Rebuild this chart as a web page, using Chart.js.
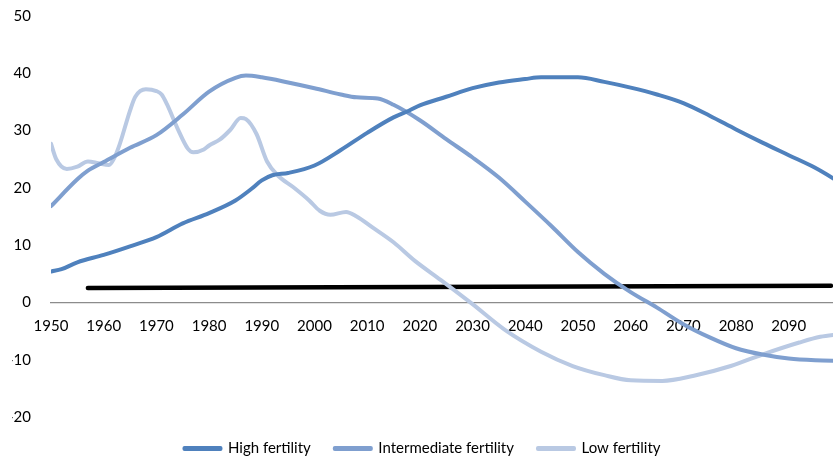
<!DOCTYPE html>
<html>
<head>
<meta charset="utf-8">
<script src="https://cdn.jsdelivr.net/npm/chart.js@4.4.1/dist/chart.umd.min.js"></script>
<style>
  html, body { margin: 0; padding: 0; background: #fff; }
  #frame { width: 833px; height: 463px; overflow: hidden; position: relative; }
  #wrap { width: 833px; height: 476px; position: absolute; left: 0; top: -13px; }
</style>
</head>
<body>
<div id="frame"><div id="wrap"><canvas id="lineChart"></canvas></div></div>
<script>
// values
const highYears = [1950,1952,1955,1960,1965,1970,1975,1980,1985,1988,1990,1992,1995,2000,2005,2010,2015,2018,2020,2025,2030,2035,2040,2043,2050,2055,2060,2065,2070,2075,2080,2085,2090,2095,2100];
const highValues = [5.4,5.8,7.0,8.3,9.8,11.4,13.8,15.6,17.8,19.8,21.3,22.2,22.6,23.9,26.6,29.6,32.3,33.5,34.4,35.9,37.4,38.4,39.0,39.3,39.3,38.5,37.5,36.3,34.8,32.6,30.2,27.9,25.7,23.5,20.8];

const interYears = [1950,1955,1957,1960,1965,1970,1975,1980,1985,1987,1990,1995,2000,2005,2008,2012,2015,2020,2025,2030,2035,2040,2045,2050,2055,2060,2065,2070,2075,2080,2085,2090,2095,2100];
const interValues = [16.8,21.5,23.0,24.5,27.0,29.2,32.8,36.8,39.2,39.6,39.3,38.4,37.4,36.3,35.8,35.6,34.5,31.8,28.5,25.3,21.8,17.6,13.3,8.8,5.0,1.8,-0.9,-3.8,-6.1,-8.0,-9.1,-9.8,-10.1,-10.2];

const lowYears = [1950,1951,1953,1955,1957,1959,1961,1962,1963,1965,1966,1968,1970,1971,1972,1974,1976,1977,1979,1980,1982,1984,1986,1987,1989,1991,1993,1996,1999,2001,2003,2006,2008,2011,2015,2019,2024,2030,2036,2043,2049,2055,2060,2066,2072,2079,2085,2092,2096,2100];
const lowValues = [27.7,25.0,23.3,23.7,24.6,24.3,24.0,25.2,27.5,33.5,35.9,37.2,36.9,36.3,34.6,30.4,26.8,26.2,26.7,27.4,28.4,30.1,32.2,32.0,29.4,24.6,22.2,20.1,17.8,16.0,15.3,15.8,15.0,13.1,10.5,7.3,3.9,-0.3,-4.7,-8.6,-11.1,-12.7,-13.6,-13.7,-12.8,-11.1,-9.1,-7.0,-6.0,-5.5];

const refYears = [1957, 2098];
const refValues = [2.5, 2.9];

const seriesNames = ['High fertility', 'Intermediate fertility', 'Low fertility'];
const seriesColors = ['#4f81bd', '#7f9fcf', '#b9c9e3'];

function pts(xs, ys) {
  return xs.map((x, i) => ({ x: x, y: ys[i] }));
}

const FONT = { family: 'Lato', size: 15 };

const ctx = document.getElementById('lineChart').getContext('2d');
new Chart(ctx, {
  type: 'line',
  data: {
    datasets: [
      { label: seriesNames[0], data: pts(highYears, highValues), borderColor: seriesColors[0], backgroundColor: seriesColors[0] },
      { label: seriesNames[1], data: pts(interYears, interValues), borderColor: seriesColors[1], backgroundColor: seriesColors[1] },
      { label: seriesNames[2], data: pts(lowYears, lowValues), borderColor: seriesColors[2], backgroundColor: seriesColors[2] },
      { label: 'ref', data: pts(refYears, refValues), borderColor: '#000', backgroundColor: '#000', borderWidth: 4.5, cubicInterpolationMode: 'default', tension: 0 }
    ]
  },
  options: {
    responsive: true,
    maintainAspectRatio: false,
    animation: false,
    layout: { padding: { left: 12, right: 0, top: 2, bottom: -1 } },
    elements: {
      point: { radius: 0 },
      line: { borderWidth: 4, cubicInterpolationMode: 'monotone', fill: false, borderCapStyle: 'round', borderJoinStyle: 'round' }
    },
    scales: {
      x: {
        type: 'linear',
        position: { y: 0 },
        min: 1950,
        max: 2098.4,
        grid: { display: false, drawTicks: false },
        border: { display: true, color: '#8c8c8c', width: 1.2 },
        ticks: {
          stepSize: 10,
          includeBounds: false,
          padding: 15,
          color: '#000',
          font: FONT,
          maxRotation: 0,
          callback: v => String(v)
        }
      },
      y: {
        min: -20,
        max: 50,
        grid: { display: false, drawTicks: false },
        border: { display: false },
        ticks: { stepSize: 10, padding: 20, color: '#000', font: FONT },
        afterFit: s => { s.width = 39; }
      }
    },
    plugins: {
      tooltip: { enabled: false },
      legend: {
        position: 'bottom',
        maxHeight: 47,
        labels: {
          boxWidth: 36,
          boxHeight: 1,
          padding: 24,
          color: '#000',
          font: FONT,
          filter: item => item.datasetIndex < 3
        }
      }
    }
  }
});
</script>
</body>
</html>
